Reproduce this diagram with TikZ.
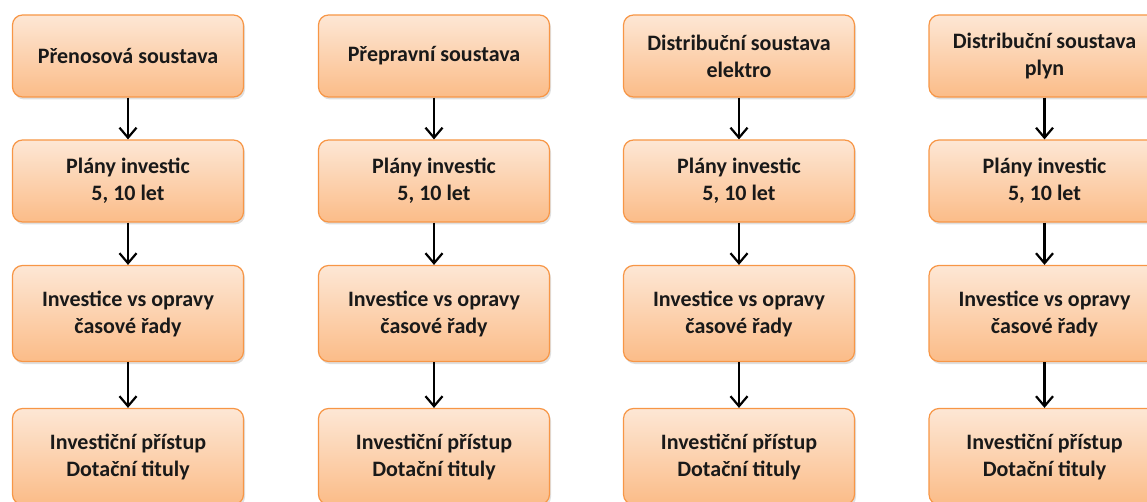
\documentclass[tikz,border=0pt]{standalone}
\usepackage{fontspec}
\setmainfont{Carlito}
\usetikzlibrary{arrows.meta, shadows}

\definecolor{boxline}{RGB}{247,150,70}
\definecolor{boxtop}{RGB}{253,231,213}
\definecolor{boxbot}{RGB}{251,188,136}

\begin{document}
\begin{tikzpicture}[x=1pt, y=-1pt,
    box/.style={draw=boxline, line width=1.2pt, rounded corners=10pt,
        top color=boxtop, bottom color=boxbot, minimum width=231pt,
        align=center, text=black!90, font=\fontsize{22}{27}\selectfont\bfseries,
        drop shadow={opacity=0.25, shadow xshift=1.5pt, shadow yshift=-2.5pt}},
    arr/.style={line width=2.2pt, -{Straight Barb[length=10pt, width=17pt, line width=2.2pt]}}]
    % Fix the page to the size of the picture
    \useasboundingbox (0,0) rectangle (1147,502);

    % One column for each system, four steps top to bottom
    \foreach \i/\x/\name in {1/128/{Přenosová soustava},
                             2/434/{Přepravní soustava},
                             3/739/{Distribuční soustava\\elektro},
                             4/1044.5/{Distribuční soustava\\plyn}}
    {
        \node[box, minimum height=82pt] (sys\i) at (\x,56) {\name};
        \node[box, minimum height=82pt] (plan\i) at (\x,181) {Plány investic\\5, 10 let};
        \node[box, minimum height=96pt] (inv\i) at (\x,313.5) {Investice vs opravy\\časové řady};
        \node[box, minimum height=96pt] (acc\i) at (\x,456.5) {Investiční přístup\\Dotační tituly};

        % Arrows between the steps
        \draw[arr] (sys\i) -- (plan\i);
        \draw[arr] (plan\i) -- (inv\i);
        \draw[arr] (inv\i) -- (acc\i);
    }
\end{tikzpicture}
\end{document}
